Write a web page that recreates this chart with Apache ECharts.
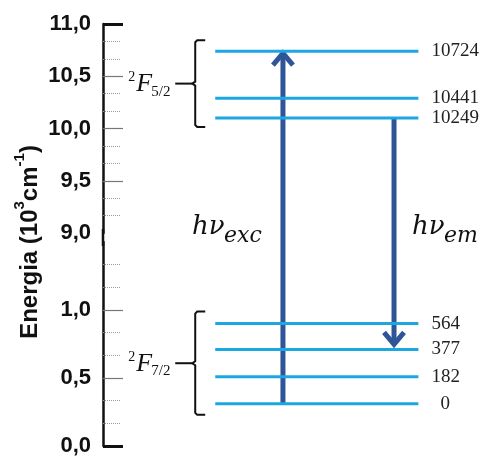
<!DOCTYPE html>
<html>
<head>
<meta charset="utf-8">
<script src="https://cdn.jsdelivr.net/npm/echarts@6/dist/echarts.min.js"></script>
<style>
  html, body { margin: 0; padding: 0; background: #fff; }
  #main { width: 490px; height: 457px; }
</style>
</head>
<body>
<div id="main"></div>
<script>
// energy levels (cm^-1) and where the figure draws them on the energy axis (10^3 cm^-1)
const upperEnergies = [10724, 10441, 10249];
const upperLevelPos = [10.74, 10.29, 10.10];
const lowerEnergies = [564, 377, 182, 0];
const lowerLevelPos = [0.90, 0.71, 0.51, 0.31];
// visible axis pieces (broken axis)
const upperRange = [9.0, 11.0];
const lowerRange = [0.0, 1.5];
const upperMajorTicks = [9.5, 10.0, 10.5];
const lowerMajorTicks = [0.5, 1.0];
const lowerTickLabels = [0.0, 0.5, 1.0];
const termNames = ['5/2', '7/2'];

const LEVEL_COLOR = '#1DA7E2';
const ARROW_COLOR = '#2D5597';
const X_START = 2.9, X_END = 8.15, EXC_X = 4.65, EM_X = 7.52;

const chart = echarts.init(document.getElementById('main'));

const fmt = v => v.toFixed(1).replace('.', ',');

function mainAxis(gi, range, ticks, labels) {
  return {
    gridIndex: gi, type: 'value', position: 'left',
    min: range[0], max: range[1], interval: 0.5,
    axisLine: { show: true, lineStyle: { color: '#111', width: 2.5 } },
    axisTick: { show: true, inside: true, length: 20, customValues: ticks,
      lineStyle: { color: '#777', width: 1.2 } },
    minorTick: { show: true, splitNumber: 3, length: 18,
      lineStyle: { color: '#999', type: 'dotted', width: 1 } },
    axisLabel: { formatter: fmt, customValues: labels, margin: 12,
      fontFamily: 'Liberation Sans', fontWeight: 'bold', fontSize: 22, color: '#111' },
    splitLine: { show: false }
  };
}
function capAxis(gi, range, end) {
  return {
    gridIndex: gi, type: 'value', position: 'left',
    min: range[0], max: range[1],
    axisLine: { show: false },
    axisTick: { show: true, inside: true, length: 20, customValues: [end],
      lineStyle: { color: '#111', width: 3 } },
    axisLabel: { show: false },
    splitLine: { show: false }
  };
}

function levelSeries(energies, positions, gi) {
  return energies.map((e, i) => ({
    type: 'line', xAxisIndex: gi, yAxisIndex: gi,
    data: [[X_START, positions[i]], [X_END, positions[i]]],
    symbol: 'none', silent: true,
    lineStyle: { color: LEVEL_COLOR, width: 3 },
    endLabel: {
      show: true, formatter: String(e), distance: 13,
      offset: e === 0 ? [9, 0] : [0, 0],
      fontFamily: 'Liberation Serif', fontSize: 19, color: '#222'
    }
  }));
}

chart.setOption({
  animation: false,
  grid: [
    { left: 103, right: 0, top: 24, height: 209 },
    { left: 103, right: 0, top: 242, height: 207 }
  ],
  xAxis: [
    { gridIndex: 0, type: 'value', min: 0, max: 10, show: false },
    { gridIndex: 1, type: 'value', min: 0, max: 10, show: false }
  ],
  yAxis: [
    mainAxis(0, upperRange, upperMajorTicks, undefined),
    mainAxis(1, lowerRange, lowerMajorTicks, lowerTickLabels),
    capAxis(0, upperRange, upperRange[1]),
    capAxis(1, lowerRange, lowerRange[0])
  ],
  series: [
    ...levelSeries(upperEnergies, upperLevelPos, 0),
    ...levelSeries(lowerEnergies, lowerLevelPos, 1)
  ]
});

const px = (gi, x, y) => chart.convertToPixel({ gridIndex: gi }, [x, y]);

function arrowUp(x, y0, tip) {
  return [
    { type: 'line', shape: { x1: x, y1: y0, x2: x, y2: tip + 4 },
      style: { stroke: ARROW_COLOR, lineWidth: 5 } },
    { type: 'polyline', shape: { points: [[x - 10, tip + 14], [x, tip + 2], [x + 10, tip + 14]] },
      style: { stroke: ARROW_COLOR, lineWidth: 5, fill: null, lineJoin: 'miter' } }
  ];
}
function arrowDown(x, y0, tip) {
  return [
    { type: 'line', shape: { x1: x, y1: y0, x2: x, y2: tip - 4 },
      style: { stroke: ARROW_COLOR, lineWidth: 5 } },
    { type: 'polyline', shape: { points: [[x - 10, tip - 14], [x, tip - 2], [x + 10, tip - 14]] },
      style: { stroke: ARROW_COLOR, lineWidth: 5, fill: null, lineJoin: 'miter' } }
  ];
}

function brace(top, bottom, levelX, term) {
  const bx = levelX - 20, hx = levelX - 10, mid = (top + bottom) / 2, lx = bx - 20;
  const pts = [[hx, top], [bx + 2, top], [bx, top + 2], [bx, mid - 2], [bx - 3, mid],
               [bx, mid + 2], [bx, bottom - 2], [bx + 2, bottom], [hx, bottom]];
  return [
    { type: 'polyline', shape: { points: pts }, style: { stroke: '#111', lineWidth: 2, fill: null } },
    { type: 'line', shape: { x1: bx - 3, y1: mid, x2: lx, y2: mid }, style: { stroke: '#111', lineWidth: 2 } },
    { type: 'text', x: lx - 47, y: mid - 6, style: { text: '2', fontFamily: 'Liberation Serif', fontSize: 14,
      fill: '#111', verticalAlign: 'middle' } },
    { type: 'text', x: lx - 39, y: mid + 1, style: { text: 'F', fontFamily: 'Liberation Serif', fontStyle: 'italic',
      fontSize: 26, fill: '#111', verticalAlign: 'middle' } },
    { type: 'text', x: lx - 24, y: mid + 8, style: { text: term, fontFamily: 'Liberation Serif', fontSize: 15,
      fill: '#111', verticalAlign: 'middle' } }
  ];
}

function hnu(x, y, sub) {
  return [
    { type: 'text', x: x, y: y, style: { text: 'hν', fontFamily: 'DejaVu Serif', fontStyle: 'italic',
      fontSize: 26, fill: '#111', verticalAlign: 'middle' } },
    { type: 'text', x: x + 32, y: y + 9, style: { text: sub, fontFamily: 'DejaVu Serif', fontStyle: 'italic',
      fontSize: 22, fill: '#111', verticalAlign: 'middle' } }
  ];
}

const g0 = px(1, EXC_X, lowerLevelPos[3]);
const gTop = px(0, EXC_X, upperLevelPos[0]);
const e0 = px(0, EM_X, upperLevelPos[2]);
const e1 = px(1, EM_X, lowerLevelPos[1]);
const lvlX = px(0, X_START, 10)[0];
const upTop = px(0, 0, upperLevelPos[0])[1] - 11;
const upBot = px(0, 0, upperLevelPos[2])[1] + 9;
const loTop = px(1, 0, lowerLevelPos[0])[1] - 12;
const loBot = px(1, 0, lowerLevelPos[3])[1] + 11;
const axisX = px(0, 0, 10)[0];
const gapTop = px(0, 0, upperRange[0])[1];
const gapBot = px(1, 0, lowerRange[1])[1];
const midY = (gapTop + gapBot) / 2 - 10;

chart.setOption({
  graphic: [
    { type: 'rect', shape: { x: axisX - 1.25, y: gapTop - 4, width: 2.5, height: gapBot - gapTop + 8 },
      style: { fill: '#111' }, z: 100 },
    ...arrowUp(g0[0], g0[1], gTop[1]),
    ...arrowDown(e0[0], e0[1], e1[1] - 3),
    ...brace(upTop, upBot, lvlX, termNames[0]),
    ...brace(loTop, loBot, lvlX, termNames[1]),
    ...hnu(g0[0] - 91, midY, 'exc'),
    ...hnu(e0[0] + 18, midY, 'em'),
    { type: 'text', x: 27, y: 242, rotation: Math.PI / 2,
      style: {
        text: '{a|Energia (10}{s|3}{a|cm}{s|-1}{a|)}',
        align: 'center', verticalAlign: 'middle',
        rich: {
          a: { fontFamily: 'Liberation Sans', fontWeight: 'bold', fontSize: 24, fill: '#111', lineHeight: 30, verticalAlign: 'bottom' },
          s: { fontFamily: 'Liberation Sans', fontWeight: 'bold', fontSize: 15, fill: '#111', lineHeight: 30, verticalAlign: 'top' }
        }
      } }
  ]
});
</script>
</body>
</html>
